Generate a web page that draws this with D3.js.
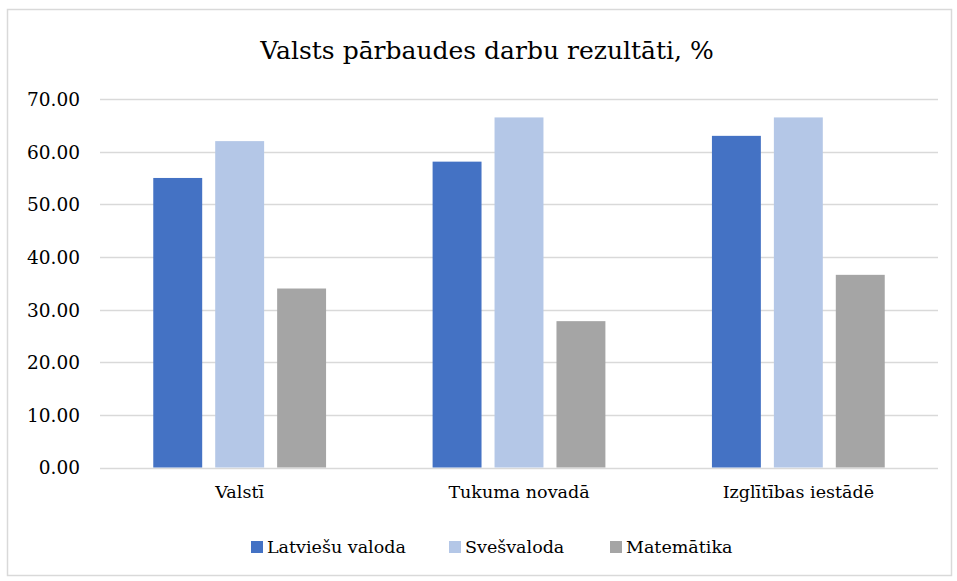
<!DOCTYPE html>
<html>
<head>
<meta charset="utf-8">
<script src="https://cdn.jsdelivr.net/npm/d3@7"></script>
<style>
  body { margin: 0; background: #fff; }
</style>
</head>
<body>
<svg id="chart" width="957" height="581"></svg>
<script>
// chart data
var categories = ["Valstī", "Tukuma novadā", "Izglītības iestādē"];
var seriesNames = ["Latviešu valoda", "Svešvaloda", "Matemātika"];
var latviesuValoda = [55.0, 58.1, 63.0];
var svesvaloda = [62.0, 66.5, 66.5];
var matematika = [34.0, 27.8, 36.6];
var yTicks = [0, 10, 20, 30, 40, 50, 60, 70];

var colors = ["#4472c4", "#b4c7e7", "#a5a5a5"];
var seriesValues = [latviesuValoda, svesvaloda, matematika];
var serif = "DejaVu Serif";

var svg = d3.select("#chart");

// outer border
svg.append("rect")
  .attr("x", 7.5).attr("y", 9.5)
  .attr("width", 944).attr("height", 566)
  .attr("fill", "#fff")
  .attr("stroke", "#d9d9d9")
  .attr("stroke-width", 1.5);

var margin = { left: 100, right: 19, top: 99 };
var width = 957 - margin.left - margin.right;
var plotBottom = 467.5;

var x = d3.scaleBand().domain(categories).range([margin.left, margin.left + width]);
var y = d3.scaleLinear().domain([0, 70]).range([plotBottom, margin.top]);

var x1 = d3.scaleBand().domain(d3.range(seriesNames.length))
  .range([0, x.bandwidth()])
  .paddingInner(0.21)
  .paddingOuter(0.86);

// gridlines
svg.append("g")
  .selectAll("line")
  .data(yTicks).enter()
  .append("line")
  .attr("x1", margin.left)
  .attr("x2", margin.left + width)
  .attr("y1", function (d) { return Math.round(y(d)) + 0.5; })
  .attr("y2", function (d) { return Math.round(y(d)) + 0.5; })
  .attr("stroke", "#d9d9d9")
  .attr("stroke-width", 1.5);

// y axis labels
var yAxis = d3.axisLeft(y).tickValues(yTicks).tickFormat(d3.format(".2f")).tickSize(0).tickPadding(0);
var yg = svg.append("g").attr("transform", "translate(" + 80 + ",0)").call(yAxis);
yg.select(".domain").remove();
yg.selectAll("text").attr("fill", "#000").attr("dy", "0.35em")
  .style("font-family", serif).style("font-size", "18.5px");

// bars
var groups = svg.append("g")
  .selectAll("g")
  .data(categories).enter()
  .append("g")
  .attr("transform", function (d) { return "translate(" + x(d) + ",0)"; });

groups.selectAll("rect")
  .data(function (d, i) {
    return seriesValues.map(function (s, j) { return { series: j, value: s[i] }; });
  }).enter()
  .append("rect")
  .attr("x", function (d) { return x1(d.series); })
  .attr("width", x1.bandwidth())
  .attr("y", function (d) { return y(d.value); })
  .attr("height", function (d) { return plotBottom - y(d.value); })
  .attr("fill", function (d) { return colors[d.series]; });

// x axis labels
var xAxis = d3.axisBottom(x).tickSize(0).tickPadding(0);
var xg = svg.append("g").attr("transform", "translate(0," + 486 + ")").call(xAxis);
xg.select(".domain").remove();
xg.selectAll("text").attr("fill", "#000").attr("dy", "0.71em")
  .style("font-family", serif).style("font-size", "17.5px");

// title
svg.append("text")
  .attr("x", 487)
  .attr("y", 59)
  .attr("text-anchor", "middle")
  .style("font-family", serif)
  .style("font-size", "25px")
  .text("Valsts pārbaudes darbu rezultāti, %");

// legend
var legendX = [251, 449, 610];
var legend = svg.append("g")
  .selectAll("g")
  .data(seriesNames).enter()
  .append("g")
  .attr("transform", function (d, i) { return "translate(" + legendX[i] + ",547)"; });

legend.append("rect")
  .attr("x", 0).attr("y", -6)
  .attr("width", 12).attr("height", 12)
  .attr("fill", function (d, i) { return colors[i]; });

legend.append("text")
  .attr("x", 16)
  .attr("dy", "0.35em")
  .style("font-family", serif)
  .style("font-size", "17.5px")
  .text(function (d) { return d; });
</script>
</body>
</html>
